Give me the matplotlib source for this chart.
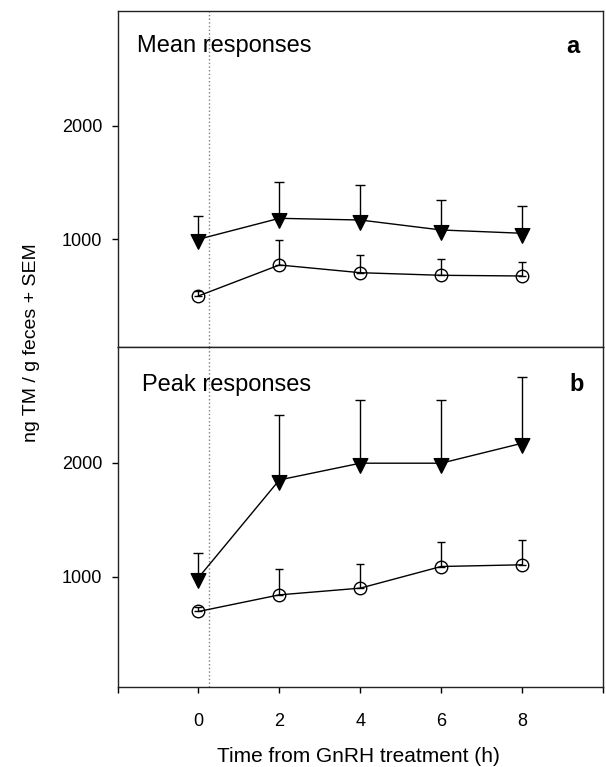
import matplotlib
matplotlib.use("Agg")
import matplotlib.pyplot as plt
from matplotlib.path import Path
import numpy as np

plt.rcParams['font.family'] = ['Liberation Sans', 'DejaVu Sans']

# time points (h after GnRH)
hours = np.array([0, 2, 4, 6, 8])
xtick_labels = ["0", "2", "4", "6", "8"]

# panel a: mean responses (ng TM / g feces), mean + SEM
mean_tri = np.array([1000, 1185, 1170, 1082, 1053])
mean_tri_sem = np.array([206, 323, 309, 265, 241])
mean_circ = np.array([500, 773, 705, 682, 676])
mean_circ_sem = np.array([40, 221, 156, 141, 126])

# panel b: peak responses
peak_tri = np.array([990, 1848, 1995, 1995, 2170])
peak_tri_sem = np.array([215, 570, 555, 555, 584])
peak_circ = np.array([693, 839, 898, 1088, 1103])
peak_circ_sem = np.array([40, 229, 213, 219, 219])

treat_time = 0.25  # dotted line for GnRH injection

# down triangle centred on its centroid (like the original software)
tri_marker = Path([(-1, 2 / 3), (1, 2 / 3), (0, -4 / 3), (-1, 2 / 3)],
                  [Path.MOVETO, Path.LINETO, Path.LINETO, Path.CLOSEPOLY])

fig = plt.figure(figsize=(6.06, 7.67), dpi=100)
ax1 = fig.add_axes([0.194, 0.548, 0.801, 0.4377])
ax2 = fig.add_axes([0.194, 0.1043, 0.801, 0.4437], sharex=ax1)


def draw_panel(ax, tri, tri_sem, circ, circ_sem):
    zeros = np.zeros(len(hours))
    ax.errorbar(hours, tri, yerr=[zeros, tri_sem], fmt='-', color='black',
                lw=1, elinewidth=1, capsize=3.5, capthick=1,
                marker=tri_marker, markersize=14, markerfacecolor='black',
                markeredgecolor='black', zorder=3)
    ax.errorbar(hours, circ, yerr=[zeros, circ_sem], fmt='-', color='black',
                lw=1, elinewidth=1, capsize=3, capthick=1,
                marker='o', markersize=9, markerfacecolor='none',
                markeredgecolor='black', markeredgewidth=1, zorder=3)
    ax.axvline(treat_time, color='gray', ls=':', lw=1, zorder=1)
    ax.set_yticks([1000, 2000])
    ax.tick_params(axis='y', direction='out', length=4, width=1,
                   pad=7, labelsize=13)
    for s in ax.spines.values():
        s.set_linewidth(1)
        s.set_color('#222222')


draw_panel(ax1, mean_tri, mean_tri_sem, mean_circ, mean_circ_sem)
draw_panel(ax2, peak_tri, peak_tri_sem, peak_circ, peak_circ_sem)

ax1.set_ylim(52, 3015)
ax2.set_ylim(30, 3018)
ax1.set_xlim(-2, 10)

ax1.tick_params(axis='x', bottom=False, labelbottom=False)
ax2.set_xticks([-2, 0, 2, 4, 6, 8, 10])
ax2.set_xticklabels([""] + xtick_labels + [""])
ax2.tick_params(axis='x', direction='out', length=4, width=1,
                pad=15, labelsize=13)

ax1.text(0.04, 0.895, "Mean responses", transform=ax1.transAxes,
         fontsize=17, va='center', ha='left')
ax1.text(0.938, 0.895, "a", transform=ax1.transAxes,
         fontsize=17, fontweight='bold', va='center', ha='center')
ax2.text(0.051, 0.8875, "Peak responses", transform=ax2.transAxes,
         fontsize=17, va='center', ha='left')
ax2.text(0.946, 0.8875, "b", transform=ax2.transAxes,
         fontsize=17, fontweight='bold', va='center', ha='center')

fig.text(0.052, 0.553, "ng TM / g feces + SEM", rotation=90,
         fontsize=14, va='center', ha='center')
fig.text(0.592, 0.014, "Time from GnRH treatment (h)",
         fontsize=15, va='center', ha='center')

fig.savefig("out.png", dpi=100)
